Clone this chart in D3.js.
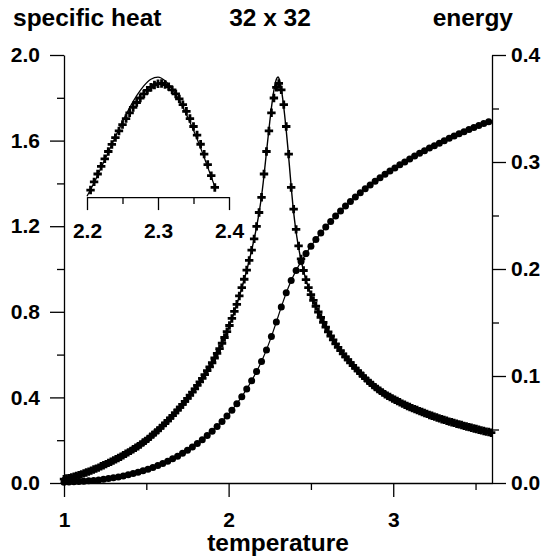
<!DOCTYPE html>
<html>
<head>
<meta charset="utf-8">
<script src="https://cdn.jsdelivr.net/npm/d3@7"></script>
<style>
  body { margin: 0; background: #fff; }
  text { font-family: "Liberation Sans", Arial, sans-serif; font-weight: bold; }
</style>
</head>
<body>
<div id="chart"></div>
<script>
// specific heat (crosses + exact line) and energy (dots) of the 32 x 32 lattice

// Monte Carlo specific heat, main panel
var tempC = [
  1.000,1.015,1.030,1.045,1.060,1.075,1.090,1.105,1.120,1.135,
  1.150,1.165,1.180,1.195,1.210,1.225,1.240,1.255,1.270,1.285,
  1.300,1.315,1.330,1.345,1.360,1.375,1.390,1.405,1.420,1.435,
  1.450,1.465,1.480,1.495,1.510,1.525,1.540,1.555,1.570,1.585,
  1.600,1.615,1.630,1.645,1.660,1.675,1.690,1.705,1.720,1.735,
  1.750,1.765,1.780,1.795,1.810,1.825,1.840,1.855,1.870,1.885,
  1.900,1.915,1.930,1.945,1.960,1.975,1.990,2.005,2.020,2.035,
  2.050,2.065,2.080,2.095,2.110,2.125,2.140,2.155,2.170,2.185,
  2.200,2.215,2.230,2.245,2.260,2.275,2.290,2.305,2.320,2.335,
  2.350,2.365,2.380,2.395,2.410,2.425,2.440,2.455,2.470,2.485,
  2.500,2.515,2.530,2.545,2.560,2.575,2.590,2.605,2.620,2.635,
  2.650,2.665,2.680,2.695,2.710,2.725,2.740,2.755,2.770,2.785,
  2.800,2.815,2.830,2.845,2.860,2.875,2.890,2.905,2.920,2.935,
  2.950,2.965,2.980,2.995,3.010,3.025,3.040,3.055,3.070,3.085,
  3.100,3.115,3.130,3.145,3.160,3.175,3.190,3.205,3.220,3.235,
  3.250,3.265,3.280,3.295,3.310,3.325,3.340,3.355,3.370,3.385,
  3.400,3.415,3.430,3.445,3.460,3.475,3.490,3.505,3.520,3.535,
  3.550,3.565,3.580,3.595];
var heatMC = [
  0.018,0.021,0.023,0.026,0.029,0.033,0.037,0.040,0.045,0.049,
  0.053,0.058,0.063,0.067,0.072,0.078,0.083,0.088,0.094,0.099,
  0.105,0.111,0.117,0.123,0.130,0.137,0.143,0.150,0.158,0.165,
  0.172,0.180,0.189,0.197,0.206,0.216,0.226,0.236,0.246,0.257,
  0.268,0.280,0.291,0.303,0.315,0.328,0.341,0.354,0.367,0.381,
  0.395,0.410,0.425,0.440,0.456,0.473,0.489,0.506,0.525,0.543,
  0.562,0.584,0.606,0.628,0.653,0.680,0.707,0.736,0.769,0.802,
  0.835,0.874,0.913,0.952,0.995,1.040,1.088,1.141,1.199,1.264,
  1.335,1.444,1.549,1.645,1.730,1.799,1.849,1.867,1.837,1.768,
  1.666,1.537,1.381,1.280,1.185,1.108,1.047,0.993,0.950,0.913,
  0.880,0.853,0.826,0.799,0.774,0.751,0.728,0.706,0.687,0.669,
  0.650,0.634,0.619,0.603,0.589,0.576,0.562,0.549,0.537,0.524,
  0.512,0.501,0.489,0.478,0.468,0.458,0.448,0.439,0.431,0.423,
  0.415,0.408,0.402,0.395,0.389,0.383,0.377,0.371,0.366,0.360,
  0.355,0.350,0.345,0.341,0.336,0.332,0.327,0.323,0.318,0.314,
  0.310,0.306,0.302,0.298,0.295,0.291,0.287,0.284,0.281,0.277,
  0.274,0.271,0.267,0.264,0.261,0.258,0.255,0.252,0.249,0.246,
  0.243,0.240,0.238,0.235];

// exact specific heat (solid line)
var tempExact = [
  1.00,1.05,1.10,1.15,1.20,1.25,1.30,1.35,1.40,1.45,1.50,1.55,1.60,1.65,1.70,
  1.75,1.80,1.85,1.90,1.95,2.00,2.05,2.10,2.12,2.14,2.16,2.18,2.19,2.20,2.21,
  2.22,2.23,2.24,2.25,2.26,2.27,2.28,2.29,2.30,2.31,2.32,2.33,2.34,2.35,2.36,
  2.37,2.38,2.39,2.40,2.41,2.42,2.43,2.44,2.46,2.48,2.50,2.55,2.60,2.65,2.70,
  2.75,2.80,2.85,2.90,2.95,3.00,3.05,3.10,3.15,3.20,3.25,3.30,3.35,3.40,3.45,
  3.50,3.55,3.60];
var heatExact = [
  0.018,0.027,0.039,0.053,0.069,0.086,0.105,0.125,0.148,0.172,0.200,0.232,0.268,0.307,0.349,
  0.395,0.445,0.500,0.562,0.635,0.725,0.835,0.965,1.024,1.088,1.158,1.240,1.287,1.340,1.403,
  1.474,1.546,1.618,1.688,1.753,1.810,1.856,1.887,1.897,1.880,1.842,1.788,1.722,1.648,1.566,
  1.476,1.385,1.302,1.232,1.173,1.123,1.080,1.042,0.977,0.924,0.880,0.790,0.712,0.650,0.598,
  0.553,0.512,0.474,0.442,0.415,0.393,0.373,0.355,0.339,0.324,0.310,0.297,0.285,0.274,0.263,
  0.253,0.243,0.234];

// inset: finer Monte Carlo run around the peak
var tempInset = [
  2.205,2.210,2.215,2.220,2.225,2.230,2.235,2.240,2.245,2.250,2.255,2.260,
  2.265,2.270,2.275,2.280,2.285,2.290,2.295,2.300,2.305,2.310,2.315,2.320,
  2.325,2.330,2.335,2.340,2.345,2.350,2.355,2.360,2.365,2.370,2.375,2.380];
var heatInset = [
  1.369,1.407,1.444,1.480,1.515,1.549,1.582,1.614,1.645,1.675,1.703,1.730,
  1.755,1.778,1.799,1.818,1.835,1.849,1.860,1.866,1.867,1.862,1.852,1.837,
  1.818,1.795,1.768,1.737,1.703,1.666,1.626,1.583,1.537,1.488,1.436,1.381];

// energy (right axis)
var tempE = [
  1.00,1.03,1.06,1.09,1.12,1.15,1.18,1.21,1.24,1.27,1.30,1.33,1.36,1.39,1.42,
  1.45,1.48,1.51,1.54,1.57,1.60,1.63,1.66,1.69,1.72,1.75,1.78,1.81,1.84,1.87,
  1.90,1.93,1.96,1.99,2.02,2.05,2.08,2.11,2.14,2.17,2.20,2.23,2.26,2.29,2.32,
  2.35,2.38,2.41,2.44,2.47,2.50,2.53,2.56,2.59,2.62,2.65,2.68,2.71,2.74,2.77,
  2.80,2.83,2.86,2.89,2.92,2.95,2.98,3.01,3.04,3.07,3.10,3.13,3.16,3.19,3.22,
  3.25,3.28,3.31,3.34,3.37,3.40,3.43,3.46,3.49,3.52,3.55,3.58];
var energy = [
  0.0007,0.0009,0.0011,0.0013,0.0016,0.0020,0.0024,0.0029,0.0035,0.0042,0.0049,0.0057,0.0066,0.0077,0.0088,
  0.0100,0.0114,0.0129,0.0146,0.0163,0.0182,0.0204,0.0226,0.0251,0.0277,0.0305,0.0337,0.0370,0.0405,0.0443,
  0.0483,0.0528,0.0575,0.0626,0.0681,0.0741,0.0807,0.0878,0.0956,0.1042,0.1136,0.1244,0.1368,0.1505,0.1646,
  0.1778,0.1892,0.1987,0.2070,0.2144,0.2213,0.2276,0.2336,0.2392,0.2445,0.2496,0.2543,0.2588,0.2632,0.2673,
  0.2713,0.2750,0.2785,0.2820,0.2853,0.2885,0.2916,0.2945,0.2974,0.3001,0.3029,0.3055,0.3081,0.3106,0.3130,
  0.3153,0.3176,0.3198,0.3221,0.3242,0.3263,0.3283,0.3303,0.3322,0.3341,0.3359,0.3377];

// tick values
var leftMajor = [0, 0.4, 0.8, 1.2, 1.6, 2.0];
var leftMinor = [0.2, 0.6, 1.0, 1.4, 1.8];
var rightMajor = [0, 0.1, 0.2, 0.3, 0.4];
var rightMinor = [0.05, 0.15, 0.25, 0.35];
var bottomMajor = [1, 2, 3];
var bottomMinor = [1.5, 2.5, 3.5];
var insetMajor = [2.2, 2.3, 2.4];
var insetMinor = [2.25, 2.35];

var width = 552, height = 559;

var svg = d3.select("#chart")
            .append("svg")
            .attr("width", width)
            .attr("height", height);

var x = d3.scaleLinear().domain([1, 3.6]).range([64, 492]);
var yC = d3.scaleLinear().domain([0, 2]).range([483, 55]);
var yE = d3.scaleLinear().domain([0, 0.4]).range([483, 55]);
var xIn = d3.scaleLinear().domain([2.2, 2.4]).range([87, 229]);

// draw an axis and style it
function drawAxis(axis, tx, ty, keepDomain){
    var g = svg.append("g")
               .attr("transform", "translate(" + tx + "," + ty + ")")
               .call(axis);
    g.attr("font-size", 21)
     .attr("font-family", "'Liberation Sans', Arial, sans-serif")
     .attr("font-weight", "bold");
    g.selectAll("line").attr("stroke", "#000").attr("stroke-width", 1.3);
    g.selectAll("text").attr("fill", "#000");
    if(keepDomain) g.select(".domain").attr("stroke", "#000").attr("stroke-width", 1.3);
    else g.select(".domain").remove();
    return g;
}

var f1 = d3.format(".1f");

drawAxis(d3.axisLeft(yC).tickValues(leftMajor).tickSize(14).tickSizeOuter(0).tickPadding(10).tickFormat(f1), 64, 0, true);
drawAxis(d3.axisLeft(yC).tickValues(leftMinor).tickSize(7).tickFormat(""), 64, 0, false);

drawAxis(d3.axisRight(yE).tickValues(rightMajor).tickSize(14).tickSizeOuter(0).tickPadding(5).tickFormat(f1), 492, 0, true);
drawAxis(d3.axisRight(yE).tickValues(rightMinor).tickSize(7).tickFormat(""), 492, 0, false);

drawAxis(d3.axisBottom(x).tickValues(bottomMajor).tickSize(14).tickSizeOuter(0).tickPadding(15).tickFormat(d3.format("d")), 0, 483, true);
drawAxis(d3.axisBottom(x).tickValues(bottomMinor).tickSize(7).tickFormat(""), 0, 483, false);

// inset axis (same y scale as the main panel)
var insetY = yC(1.336);
drawAxis(d3.axisBottom(xIn).tickValues(insetMajor).tickSize(13).tickSizeOuter(0).tickPadding(13).tickFormat(f1), 0, insetY, true);
drawAxis(d3.axisBottom(xIn).tickValues(insetMinor).tickSize(7).tickFormat(""), 0, insetY, false);

// titles
svg.append("text").attr("x", 13).attr("y", 26).attr("font-size", 24.5).text("specific heat");
svg.append("text").attr("x", 270).attr("y", 26).attr("font-size", 24.5).attr("text-anchor", "middle").text("32 x 32");
svg.append("text").attr("x", 513).attr("y", 26).attr("font-size", 24.5).attr("text-anchor", "end").text("energy");
svg.append("text").attr("x", 278).attr("y", 551).attr("font-size", 24.5).attr("text-anchor", "middle").text("temperature");

var exactData = tempExact.map(function(t, i){ return {t: t, c: heatExact[i]}; });
var mcData = tempC.map(function(t, i){ return {t: t, c: heatMC[i]}; });
var insetData = tempInset.map(function(t, i){ return {t: t, c: heatInset[i]}; });
var energyData = tempE.map(function(t, i){ return {t: t, e: energy[i]}; });

var lineC = d3.line()
              .x(function(d){ return x(d.t); })
              .y(function(d){ return yC(d.c); })
              .curve(d3.curveMonotoneX);

var lineInset = d3.line()
                  .x(function(d){ return xIn(d.t); })
                  .y(function(d){ return yC(d.c); })
                  .curve(d3.curveMonotoneX);

var lineE = d3.line()
              .x(function(d){ return x(d.t); })
              .y(function(d){ return yE(d.e); });

var plus = "M-4.2,0H4.2M0,-4.2V4.2";

// specific heat
svg.append("path")
   .datum(exactData)
   .attr("fill", "none")
   .attr("stroke", "#000")
   .attr("stroke-width", 1.4)
   .attr("d", lineC);

svg.append("g")
   .selectAll("path")
   .data(mcData)
   .enter()
   .append("path")
   .attr("transform", function(d){ return "translate(" + x(d.t) + "," + yC(d.c) + ")"; })
   .attr("d", plus)
   .attr("stroke", "#000")
   .attr("stroke-width", 2.8);

// energy
svg.append("path")
   .datum(energyData)
   .attr("fill", "none")
   .attr("stroke", "#000")
   .attr("stroke-width", 1.2)
   .attr("d", lineE);

svg.append("g")
   .selectAll("circle")
   .data(energyData)
   .enter()
   .append("circle")
   .attr("cx", function(d){ return x(d.t); })
   .attr("cy", function(d){ return yE(d.e); })
   .attr("r", 3.5)
   .attr("fill", "#000");

// inset
svg.append("path")
   .datum(exactData.filter(function(d){ return d.t >= 2.2 && d.t <= 2.38; }))
   .attr("fill", "none")
   .attr("stroke", "#000")
   .attr("stroke-width", 1.3)
   .attr("d", lineInset);

svg.append("g")
   .selectAll("path")
   .data(insetData)
   .enter()
   .append("path")
   .attr("transform", function(d){ return "translate(" + xIn(d.t) + "," + yC(d.c) + ")"; })
   .attr("d", plus)
   .attr("stroke", "#000")
   .attr("stroke-width", 2.8);
</script>
</body>
</html>
